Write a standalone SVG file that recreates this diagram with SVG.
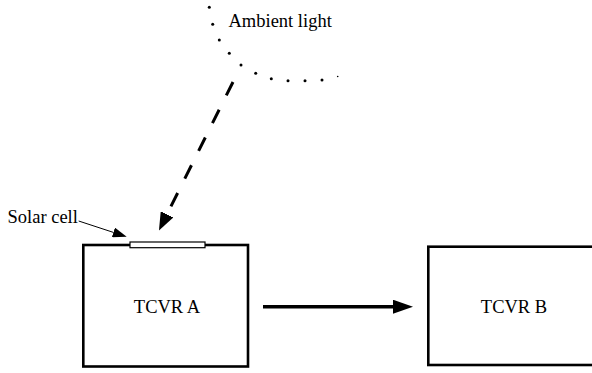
<svg xmlns="http://www.w3.org/2000/svg" width="592" height="373" viewBox="0 0 592 373">
  <style>
    text { font-family: "Liberation Serif", "Times New Roman", serif; font-size: 18.5px; fill: #000; }
    .box { fill: #fff; stroke: #000; stroke-width: 2.6; }
    .dot { fill: #000; }
    .dash { stroke: #000; stroke-width: 3; stroke-dasharray: 15 16; fill: none; }
    .solid { stroke: #000; stroke-width: 3.5; fill: none; }
    .thin { stroke: #000; stroke-width: 1; fill: none; }
  </style>
  <defs>
    <marker id="bigHead" markerUnits="userSpaceOnUse" markerWidth="20" markerHeight="14" refX="0" refY="7" orient="auto" viewBox="0 0 20 14">
      <polygon points="0,0 20,7 0,14" fill="#000"/>
    </marker>
    <marker id="dashHead" markerUnits="userSpaceOnUse" markerWidth="18" markerHeight="14" refX="0" refY="7" orient="auto" viewBox="0 0 18 14">
      <polygon points="0,0 18,7 0,14" fill="#000"/>
    </marker>
    <marker id="smallHead" markerUnits="userSpaceOnUse" markerWidth="14" markerHeight="10" refX="0" refY="5" orient="auto" viewBox="0 0 14 10">
      <polygon points="0,0 14,5 0,10" fill="#000"/>
    </marker>
  </defs>

  <rect width="592" height="373" fill="#fff"/>

  <g id="ambient-light">
    <circle class="dot" cx="209.3" cy="7.3" r="1.5"/>
    <circle class="dot" cx="212.7" cy="24.3" r="1.5"/>
    <circle class="dot" cx="219.3" cy="40" r="1.5"/>
    <circle class="dot" cx="229.3" cy="53.3" r="1.5"/>
    <circle class="dot" cx="241" cy="65" r="1.5"/>
    <circle class="dot" cx="255.7" cy="73.3" r="1.5"/>
    <circle class="dot" cx="271.3" cy="78.7" r="1.5"/>
    <circle class="dot" cx="288" cy="80.7" r="1.5"/>
    <circle class="dot" cx="305" cy="80.7" r="1.5"/>
    <circle class="dot" cx="322" cy="80" r="1.5"/>
    <circle class="dot" cx="337.7" cy="76.5" r="0.8"/>
    <text x="228.5" y="26.7">Ambient light</text>
  </g>

  <g id="tcvr-a">
    <rect class="box" x="83.3" y="245" width="164.7" height="121.5"/>
    <text x="167" y="313" text-anchor="middle">TCVR A</text>
  </g>

  <g id="solar-cell">
    <rect x="130" y="242" width="75" height="5.7" fill="#fff" stroke="#000" stroke-width="1.2"/>
    <text x="7.5" y="223">Solar cell</text>
  </g>

  <g id="tcvr-b">
    <rect class="box" x="428.3" y="246.7" width="170" height="118.3"/>
    <text x="514" y="313" text-anchor="middle">TCVR B</text>
  </g>

  <g id="connectors">
    <line class="dash" x1="233" y1="82" x2="167" y2="214.3" marker-end="url(#dashHead)"/>
    <line class="solid" x1="263" y1="306.7" x2="393" y2="306.7" marker-end="url(#bigHead)"/>
    <line class="thin" x1="78.7" y1="221" x2="113.4" y2="232.4" marker-end="url(#smallHead)"/>
  </g>
</svg>
